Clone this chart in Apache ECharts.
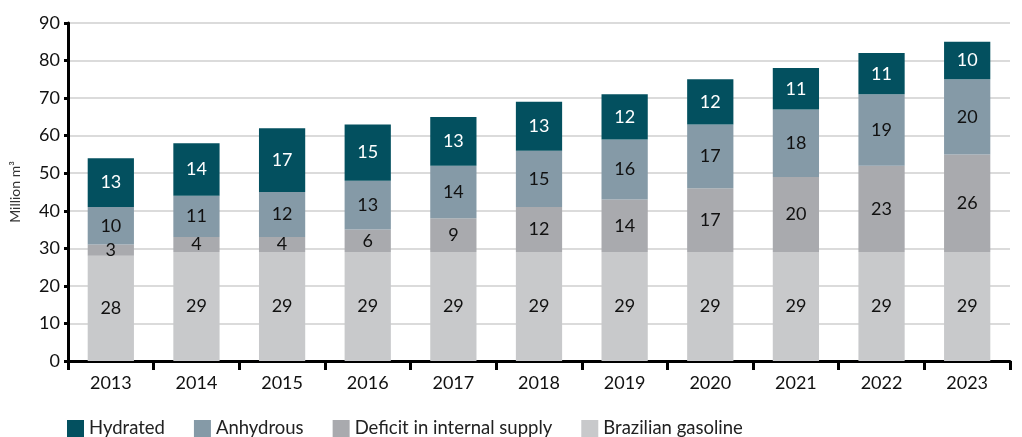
<!DOCTYPE html>
<html>
<head>
<meta charset="utf-8">
<script src="https://cdn.jsdelivr.net/npm/echarts@6/dist/echarts.min.js"></script>
<style>
  html, body { margin: 0; padding: 0; background: #fff; }
  #chart { width: 1022px; height: 437px; }
</style>
</head>
<body>
<div id="chart"></div>
<script>
  // data
  var years = ['2013', '2014', '2015', '2016', '2017', '2018', '2019', '2020', '2021', '2022', '2023'];
  var gasoline = [28, 29, 29, 29, 29, 29, 29, 29, 29, 29, 29];
  var deficit = [3, 4, 4, 6, 9, 12, 14, 17, 20, 23, 26];
  var anhydrous = [10, 11, 12, 13, 14, 15, 16, 17, 18, 19, 20];
  var hydrated = [13, 14, 17, 15, 13, 13, 12, 12, 11, 11, 10];
  var yTicks = [0, 10, 20, 30, 40, 50, 60, 70, 80, 90];

  var font = 'Lato';
  var myChart = echarts.init(document.getElementById('chart'));

  function seg(name, data, color, txt) {
    return {
      name: name,
      type: 'bar',
      stack: 'total',
      data: data,
      barWidth: '54%',
      itemStyle: { color: color },
      label: {
        show: true,
        position: 'inside',
        color: txt,
        fontFamily: font,
        fontSize: 18
      }
    };
  }

  var option = {
    animation: false,
    textStyle: { fontFamily: font },
    grid: { left: 68, right: 12, top: 23, bottom: 76 },
    legend: {
      top: 414,
      left: 62,
      itemWidth: 17,
      itemHeight: 17,
      itemGap: 29,
      icon: 'rect',
      textStyle: { fontFamily: font, fontSize: 18.5, color: '#222' },
      data: ['Hydrated', 'Anhydrous', 'Deficit in internal supply', 'Brazilian gasoline']
    },
    xAxis: {
      type: 'category',
      data: years,
      axisLine: { lineStyle: { color: '#000', width: 3 } },
      axisTick: { show: true, length: 9, lineStyle: { color: '#000', width: 3 } },
      axisLabel: { color: '#111', fontSize: 18, fontFamily: font, margin: 13 }
    },
    yAxis: {
      type: 'value',
      min: yTicks[0],
      max: yTicks[yTicks.length - 1],
      interval: 10,
      name: 'Million m³',
      nameLocation: 'middle',
      nameGap: 46,
      nameTextStyle: { color: '#333', fontSize: 14, fontFamily: font },
      axisLine: { show: true, lineStyle: { color: '#000', width: 3 } },
      axisTick: { show: true, length: 4, lineStyle: { color: '#000', width: 3 } },
      axisLabel: { color: '#111', fontSize: 18, fontFamily: font, margin: 8 },
      splitLine: { show: true, lineStyle: { color: '#cfcfcf', width: 1.5 } }
    },
    series: [
      seg('Brazilian gasoline', gasoline, '#c8c9cb', '#111'),
      seg('Deficit in internal supply', deficit, '#a9aaae', '#111'),
      seg('Anhydrous', anhydrous, '#859aa7', '#111'),
      seg('Hydrated', hydrated, '#03505f', '#fff')
    ]
  };
  myChart.setOption(option);
</script>
</body>
</html>
